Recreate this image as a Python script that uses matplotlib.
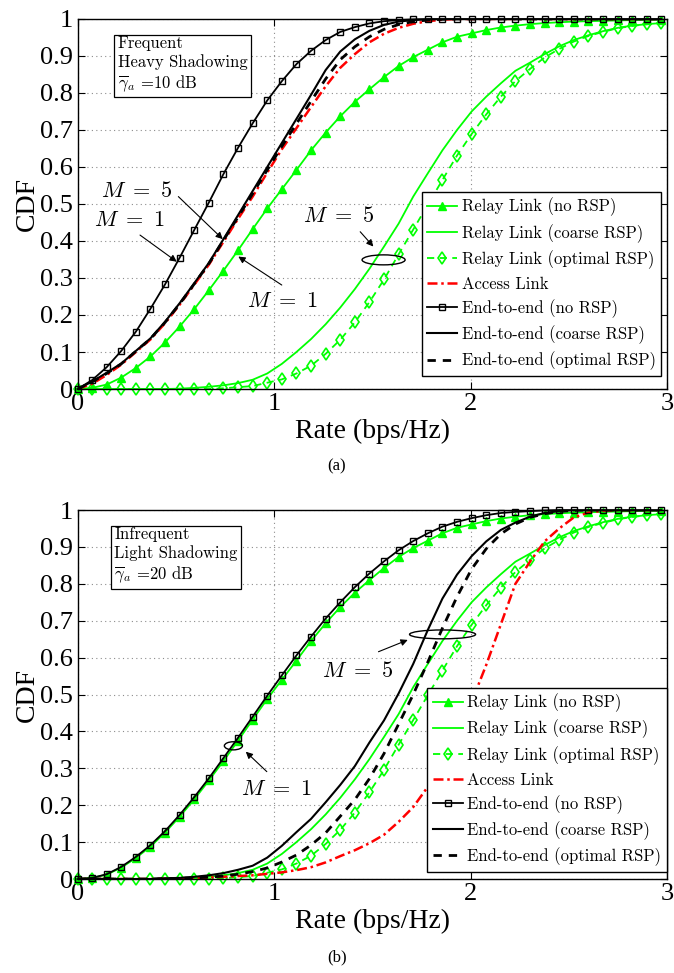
import matplotlib
matplotlib.use('Agg')
import matplotlib.pyplot as plt
from matplotlib.patches import Ellipse
import numpy as np

plt.rcParams['font.family'] = 'Liberation Serif'
plt.rcParams['mathtext.fontset'] = 'cm'

# sampling grid of the rate axis (bps/Hz), one point per marker
rate = np.linspace(0, 2.97, 41)

# relay link curves (same in both panels)
relay_norsp = [0, 0.003, 0.012, 0.031, 0.057, 0.088, 0.126, 0.169, 0.216, 0.267,
               0.32, 0.375, 0.432, 0.488, 0.54, 0.592, 0.645, 0.693, 0.737, 0.776,
               0.81, 0.843, 0.873, 0.897, 0.917, 0.937, 0.952, 0.961, 0.97, 0.977,
               0.982, 0.986, 0.989, 0.991, 0.993, 0.994, 0.995, 0.996, 0.997, 0.998, 0.998]
relay_coarse = [0, 0, 0, 0, 0, 0, 0, 0.001, 0.003, 0.006,
                0.01, 0.016, 0.025, 0.042, 0.068, 0.1, 0.135, 0.175, 0.22, 0.27,
                0.325, 0.385, 0.447, 0.52, 0.583, 0.645, 0.7, 0.75, 0.79, 0.826,
                0.86, 0.882, 0.905, 0.926, 0.943, 0.956, 0.967, 0.976, 0.982, 0.986, 0.989]
relay_optimal = [0, 0, 0, 0, 0, 0, 0, 0, 0, 0,
                 0.002, 0.005, 0.008, 0.017, 0.026, 0.042, 0.063, 0.095, 0.133, 0.18,
                 0.235, 0.296, 0.364, 0.431, 0.498, 0.565, 0.631, 0.689, 0.742, 0.79,
                 0.832, 0.865, 0.896, 0.919, 0.939, 0.954, 0.965, 0.975, 0.981, 0.986, 0.988]

# panel (a): frequent heavy shadowing, 10 dB
access_a = [0, 0.014, 0.038, 0.066, 0.1, 0.134, 0.178, 0.228, 0.282, 0.336,
            0.398, 0.46, 0.52, 0.585, 0.648, 0.705, 0.762, 0.818, 0.868, 0.905,
            0.937, 0.96, 0.976, 0.987, 0.994, 0.998, 1, 1, 1, 1,
            1, 1, 1, 1, 1, 1, 1, 1, 1, 1, 1]
e2e_norsp_a = [0, 0.024, 0.059, 0.103, 0.155, 0.217, 0.283, 0.355, 0.43, 0.504,
               0.581, 0.652, 0.718, 0.78, 0.832, 0.878, 0.914, 0.943, 0.965, 0.978,
               0.988, 0.994, 0.997, 0.999, 1, 1, 1, 1, 1, 1,
               1, 1, 1, 1, 1, 1, 1, 1, 1, 1, 1]
e2e_coarse_a = [0, 0.02, 0.044, 0.069, 0.103, 0.137, 0.182, 0.232, 0.286, 0.341,
                0.405, 0.47, 0.535, 0.6, 0.665, 0.73, 0.795, 0.862, 0.912, 0.945,
                0.968, 0.984, 0.993, 0.997, 0.999, 1, 1, 1, 1, 1,
                1, 1, 1, 1, 1, 1, 1, 1, 1, 1, 1]
e2e_optimal_a = [0, 0.019, 0.042, 0.068, 0.102, 0.136, 0.18, 0.23, 0.284, 0.339,
                 0.402, 0.465, 0.528, 0.592, 0.656, 0.717, 0.778, 0.838, 0.89, 0.925,
                 0.952, 0.972, 0.985, 0.993, 0.997, 0.999, 1, 1, 1, 1,
                 1, 1, 1, 1, 1, 1, 1, 1, 1, 1, 1]

# panel (b): infrequent light shadowing, 20 dB
access_b = [0, 0, 0, 0, 0, 0, 0.001, 0.002, 0.003, 0.004,
            0.006, 0.008, 0.01, 0.014, 0.018, 0.024, 0.032, 0.045, 0.062, 0.078,
            0.097, 0.12, 0.155, 0.195, 0.25, 0.31, 0.39, 0.48, 0.58, 0.69,
            0.8, 0.86, 0.915, 0.95, 0.98, 0.993, 0.998, 1, 1, 1, 1]
e2e_norsp_b = [0, 0.003, 0.013, 0.033, 0.06, 0.092, 0.13, 0.174, 0.222, 0.273,
               0.328, 0.383, 0.44, 0.497, 0.552, 0.606, 0.657, 0.706, 0.75, 0.791,
               0.828, 0.861, 0.891, 0.916, 0.937, 0.955, 0.968, 0.978, 0.986, 0.992,
               0.995, 0.997, 0.999, 1, 1, 1, 1, 1, 1, 1, 1]
e2e_coarse_b = [0, 0, 0, 0, 0, 0, 0.002, 0.003, 0.006, 0.01,
                0.016, 0.025, 0.036, 0.058, 0.09, 0.127, 0.163, 0.208, 0.255, 0.306,
                0.37, 0.43, 0.503, 0.583, 0.675, 0.76, 0.825, 0.875, 0.915, 0.946,
                0.966, 0.982, 0.992, 0.997, 1, 1, 1, 1, 1, 1, 1]
e2e_optimal_b = [0, 0, 0, 0, 0, 0, 0.001, 0.002, 0.003, 0.005,
                 0.008, 0.013, 0.02, 0.03, 0.046, 0.065, 0.092, 0.125, 0.17, 0.215,
                 0.272, 0.34, 0.42, 0.5, 0.588, 0.68, 0.765, 0.84, 0.895, 0.935,
                 0.962, 0.98, 0.99, 0.996, 0.999, 1, 1, 1, 1, 1, 1]

labels = ['Relay Link (no RSP)', 'Relay Link (coarse RSP)', 'Relay Link (optimal RSP)',
          'Access Link', 'End-to-end (no RSP)', 'End-to-end (coarse RSP)',
          'End-to-end (optimal RSP)']

green = (0, 1, 0)
fig = plt.figure(figsize=(6.74, 9.73), dpi=100)
ax1 = fig.add_axes([0.115, 0.6002, 0.875, 0.3803])
ax2 = fig.add_axes([0.115, 0.0966, 0.875, 0.3792])


def draw(ax, access, e2e_norsp, e2e_coarse, e2e_opt):
    ax.plot(rate, relay_norsp, '-', color=green, lw=1.3, marker='^', ms=5.5,
            mfc=green, mec=green, label=labels[0], zorder=3, clip_on=False)
    ax.plot(rate, relay_coarse, '-', color=green, lw=1.3, label=labels[1], zorder=3)
    ax.plot(rate, relay_optimal, '--', color=green, lw=1.3, marker='d', ms=6,
            mfc='none', mec=green, mew=1.2, dashes=(4, 3), label=labels[2], zorder=3,
            clip_on=False)
    ax.plot(rate, access, '-.', color='r', lw=1.8, dashes=(4, 1.5, 1, 1.5),
            label=labels[3], zorder=3)
    ax.plot(rate, e2e_norsp, '-', color='k', lw=1.3, marker='s', ms=4,
            mfc='none', mec='k', mew=1, label=labels[4], zorder=4, clip_on=False)
    ax.plot(rate, e2e_coarse, '-', color='k', lw=1.5, label=labels[5], zorder=4)
    ax.plot(rate, e2e_opt, '--', color='k', lw=2, dashes=(3, 2.5), label=labels[6], zorder=4)

    ax.set_xlim(0, 3)
    ax.set_ylim(0, 1)
    ax.set_xticks([0, 1, 2, 3])
    ax.set_xticklabels(['0', '1', '2', '3'])
    ax.set_yticks(np.arange(0, 1.01, 0.1))
    ax.set_yticklabels(['0', '0.1', '0.2', '0.3', '0.4', '0.5', '0.6', '0.7', '0.8', '0.9', '1'])
    ax.tick_params(direction='in', top=True, right=True, length=5, width=0.8,
                   labelsize=19, pad=3)
    ax.grid(True, linestyle=(0, (1, 3)), color='0.55', lw=0.8)
    ax.set_xlabel('Rate (bps/Hz)', fontsize=20, labelpad=3)
    ax.set_ylabel('CDF', fontsize=20, labelpad=0)
    for s in ax.spines.values():
        s.set_linewidth(1)
        s.set_zorder(5)


def legend(ax, anchor):
    leg = ax.legend(loc='lower right', bbox_to_anchor=anchor, borderaxespad=0,
                    prop={'family': 'cmr10', 'size': 12}, handlelength=1.8,
                    handletextpad=0.25, labelspacing=0.45, borderpad=0.35,
                    fancybox=False, framealpha=1, edgecolor='k')
    leg.get_frame().set_linewidth(1)
    leg.set_zorder(10)


def note(ax, txt, xy, xytext, tx):
    ax.text(tx[0], tx[1], txt, fontsize=16, ha='center', va='center', zorder=6)
    ax.annotate('', xy=xy, xytext=xytext,
                arrowprops=dict(arrowstyle='-|>', color='k', lw=0.8,
                                mutation_scale=10, shrinkA=0, shrinkB=0), zorder=6)


# panel (a)
draw(ax1, access_a, e2e_norsp_a, e2e_coarse_a, e2e_optimal_a)
legend(ax1, (0.99, 0.035))
ax1.text(0.068, 0.955, 'Frequent\nHeavy Shadowing\n$\\overline{\\gamma}_a$ =10 dB',
         transform=ax1.transAxes, ha='left', va='top', fontsize=12, family='cmr10',
         linespacing=1.25,
         bbox=dict(boxstyle='square,pad=0.2', fc='white', ec='k', lw=0.9), zorder=7)
note(ax1, '$M\\ =\\ 5$', (0.739, 0.405), (0.513, 0.52), (0.302, 0.532))
note(ax1, '$M\\ =\\ 1$', (0.505, 0.344), (0.318, 0.416), (0.263, 0.452))
note(ax1, '$M\\ =\\ 5$', (1.505, 0.385), (1.438, 0.425), (1.331, 0.466))
note(ax1, '$M\\ =\\ 1$', (0.818, 0.358), (1.039, 0.281), (1.043, 0.234))
ax1.add_patch(Ellipse((1.557, 0.349), 0.219, 0.027, fill=False, ec='k', lw=1, zorder=6))
fig.text(0.5, 1 - 466 / 973, '(a)', ha='center', va='center', fontsize=12)

# panel (b)
draw(ax2, access_b, e2e_norsp_b, e2e_coarse_b, e2e_optimal_b)
legend(ax2, (1.0, 0.019))
ax2.text(0.062, 0.955, 'Infrequent\nLight Shadowing\n$\\overline{\\gamma}_a$ =20 dB',
         transform=ax2.transAxes, ha='left', va='top', fontsize=12, family='cmr10',
         linespacing=1.25,
         bbox=dict(boxstyle='square,pad=0.2', fc='white', ec='k', lw=0.9), zorder=7)
note(ax2, '$M\\ =\\ 5$', (1.68, 0.648), (1.531, 0.616), (1.425, 0.56))
note(ax2, '$M\\ =\\ 1$', (0.856, 0.345), (0.963, 0.291), (1.01, 0.241))
ax2.add_patch(Ellipse((1.857, 0.663), 0.336, 0.024, fill=False, ec='k', lw=1, zorder=6))
ax2.add_patch(Ellipse((0.793, 0.361), 0.092, 0.022, fill=False, ec='k', lw=1, zorder=6))
fig.text(0.5, 1 - 957 / 973, '(b)', ha='center', va='center', fontsize=12)

fig.savefig('out.png', dpi=100)
